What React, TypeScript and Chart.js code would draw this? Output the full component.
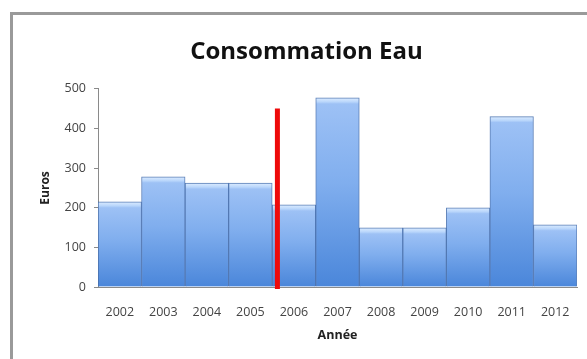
import React, { useEffect, useRef } from "react";
import { Chart, registerables } from "chart.js";

Chart.register(...registerables);

const years = ["2002", "2003", "2004", "2005", "2006", "2007", "2008", "2009", "2010", "2011", "2012"];
const consumption = [215, 278, 262, 262, 207, 477, 149, 149, 200, 430, 157];
const markerIndex = 3.62;
const markerValue = 450;
const titleText = "Consommation Eau";
const yTitle = "Euros";
const xTitle = "Année";

const markerPlugin = {
  id: "marker",
  afterDatasetsDraw(chart: any) {
    const { ctx, scales } = chart;
    const x = scales.x.getPixelForValue(markerIndex);
    const y0 = scales.y.getPixelForValue(0);
    const y1 = scales.y.getPixelForValue(markerValue);
    ctx.save();
    ctx.strokeStyle = "#ee0a0a";
    ctx.lineWidth = 5;
    ctx.beginPath();
    ctx.moveTo(x, y0 + 2);
    ctx.lineTo(x, y1);
    ctx.stroke();
    ctx.restore();
  },
};

export default function App() {
  const ref = useRef<HTMLCanvasElement>(null);
  useEffect(() => {
    if (!ref.current) return;
    const chart = new Chart(ref.current, {
      type: "bar",
      data: {
        labels: years,
        datasets: [
          {
            data: consumption,
            categoryPercentage: 1,
            barPercentage: 1,
            borderWidth: 1,
            borderColor: "rgba(50,95,165,0.8)",
            backgroundColor: (c: any) => {
              const chart = c.chart;
              const area = chart.chartArea;
              if (!area || c.parsed == null) return "#6a9fe6";
              const ys = chart.scales.y;
              const top = ys.getPixelForValue(c.parsed.y);
              const bottom = ys.getPixelForValue(0);
              const h = Math.max(1, bottom - top);
              const g = chart.ctx.createLinearGradient(0, top, 0, bottom);
              g.addColorStop(0, "#dcecff");
              g.addColorStop(Math.min(0.5, 4 / h), "#b9d6fb");
              g.addColorStop(Math.min(0.6, 6 / h), "#9dc1f5");
              g.addColorStop(0.45, "#80aeee");
              g.addColorStop(1, "#4a86da");
              return g;
            },
          },
        ],
      },
      options: {
        animation: false,
        responsive: false,
        maintainAspectRatio: false,
        layout: { padding: { left: 36, right: 10, top: 0, bottom: 12 } },
        plugins: {
          legend: { display: false },
          tooltip: { enabled: false },
          title: {
            display: true,
            text: titleText,
            color: "#111",
            font: { family: "Open Sans", size: 24, weight: "bold" },
            padding: { top: 38, bottom: 22 },
          },
        },
        scales: {
          x: {
            afterFit: (s: any) => {
              s.height = 359 - 12 - 287;
            },
            grid: { display: false },
            border: { display: true, color: "#8a8a8a", width: 1 },
            ticks: { color: "#444", font: { family: "Open Sans", size: 12.5 }, padding: 10, maxRotation: 0 },
            title: {
              display: true,
              text: xTitle,
              color: "#222",
              font: { family: "Open Sans", size: 12.5, weight: "bold" },
              padding: { top: 4, bottom: 4 },
            },
          },
          y: {
            afterFit: (s: any) => {
              s.width = 98 - 36;
            },
            min: 0,
            max: 500,
            ticks: { stepSize: 100, color: "#444", font: { family: "Open Sans", size: 12.5 }, padding: 8 },
            grid: { drawOnChartArea: false, drawTicks: true, tickLength: 4, color: "#8a8a8a" },
            border: { display: true, color: "#8a8a8a", width: 1 },
            title: {
              display: true,
              text: yTitle,
              color: "#222",
              font: { family: "Open Sans", size: 12, weight: "bold" },
              padding: { top: 2, bottom: 8 },
            },
          },
        },
      },
      plugins: [markerPlugin],
    });
    return () => chart.destroy();
  }, []);

  return (
    <div style={{ position: "fixed", left: 0, top: 0, width: 587, height: 359, background: "#fff", overflow: "hidden" }}>
      <div
        style={{
          position: "absolute",
          left: 10,
          top: 12,
          width: 600,
          height: 400,
          borderTop: "3px solid #9a9a9a",
          borderLeft: "3px solid #9a9a9a",
        }}
      />
      <canvas ref={ref} width={587} height={359} style={{ position: "absolute", left: 0, top: 0 }} />
    </div>
  );
}
